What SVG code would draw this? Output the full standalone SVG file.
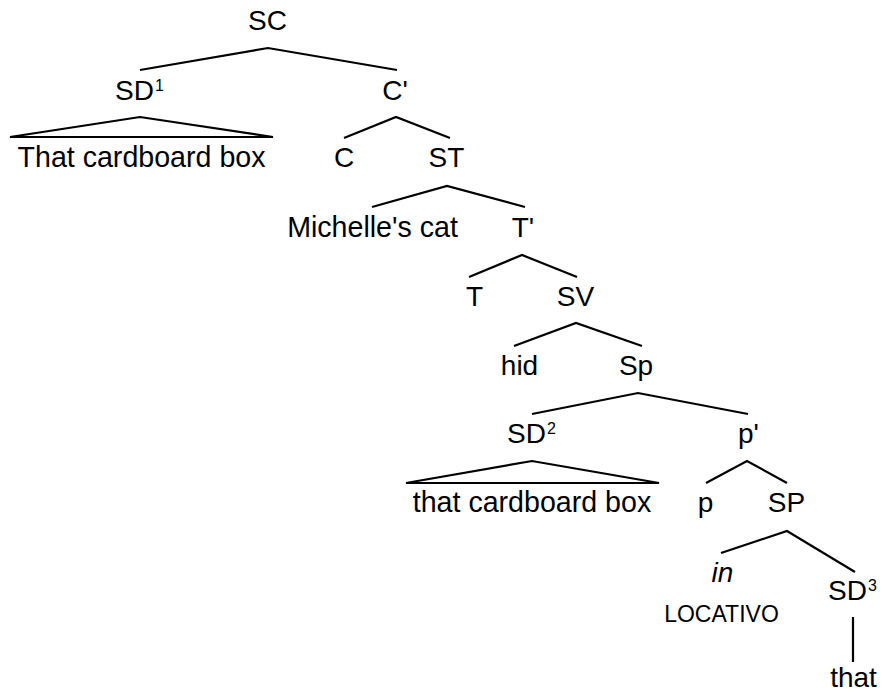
<svg xmlns="http://www.w3.org/2000/svg" width="882" height="694" viewBox="0 0 882 694">
<style>
text{font-family:"Liberation Sans",Arial,sans-serif;font-size:28px;fill:#000}
.m{text-anchor:middle}
.ph{font-size:28.6px}
.sup{font-size:16px}
.it{font-style:italic;font-size:28px}
.sm{font-size:23px}
.e{stroke:#000;stroke-width:2.2;fill:none;stroke-linejoin:miter}
</style>
<rect width="882" height="694" fill="#fff"/>
<g id="connectors">
<polyline class="e" points="140,70 268,48 397,70"/>
<polygon class="e" points="10,137 140,117 273,137"/>
<polyline class="e" points="344,138 396,117 450,138"/>
<polyline class="e" points="372,207 447,186 525,207"/>
<polyline class="e" points="469,277 522,255 577,277"/>
<polyline class="e" points="514,346 576,323 642,346"/>
<polyline class="e" points="532,414 638,393 748,414"/>
<polygon class="e" points="406,483 532,461 659,483"/>
<polyline class="e" points="706,483 747,461 787,483"/>
<polyline class="e" points="721,553 787,531 855,572"/>
<line class="e" x1="853" y1="617" x2="853" y2="662"/>
</g>
<g id="n-SC"><text class="m" x="267.5" y="30">SC</text></g>
<g id="n-SD1"><text x="115" y="100">SD</text><text class="sup" x="155" y="91">1</text></g>
<g id="n-Cbar"><text class="m" x="395" y="100">C'</text></g>
<g id="n-box1"><text class="m ph" x="141.5" y="167">That cardboard box</text></g>
<g id="n-C"><text class="m" x="344" y="167">C</text></g>
<g id="n-ST"><text class="m" x="446.5" y="167">ST</text></g>
<g id="n-cat"><text class="m ph" x="372.5" y="237">Michelle's cat</text></g>
<g id="n-Tbar"><text class="m" x="523" y="237">T'</text></g>
<g id="n-T"><text class="m" x="474.5" y="306">T</text></g>
<g id="n-SV"><text class="m" x="575.5" y="306">SV</text></g>
<g id="n-hid"><text class="m" x="519.5" y="375">hid</text></g>
<g id="n-Sp"><text class="m" x="636" y="375">Sp</text></g>
<g id="n-SD2"><text x="507" y="443">SD</text><text class="sup" x="547" y="434">2</text></g>
<g id="n-pbar"><text class="m" x="748.5" y="443">p'</text></g>
<g id="n-box2"><text class="m ph" x="532" y="512">that cardboard box</text></g>
<g id="n-p"><text class="m" x="705.5" y="512">p</text></g>
<g id="n-SP"><text class="m" x="786.5" y="512">SP</text></g>
<g id="n-in"><text class="m it" x="722.5" y="582">in</text><text class="m sm" x="721.5" y="622">LOCATIVO</text></g>
<g id="n-SD3"><text x="828" y="600">SD</text><text class="sup" x="868" y="591">3</text></g>
<g id="n-that"><text class="m" x="853.5" y="687">that</text></g>
</svg>
